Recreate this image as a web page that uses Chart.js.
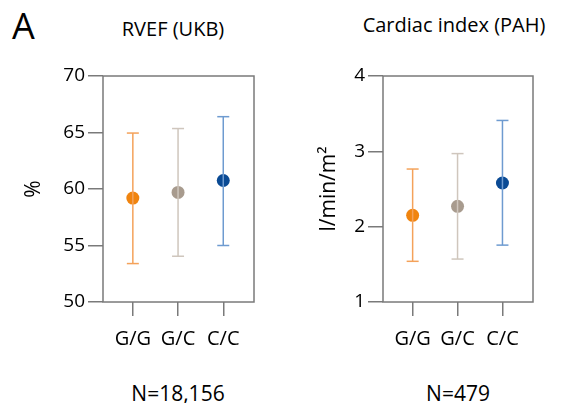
<!DOCTYPE html>
<html>
<head>
<meta charset="utf-8">
<script src="https://cdn.jsdelivr.net/npm/chart.js@4"></script>
<style>
  body { margin: 0; background: #fff; width: 561px; height: 403px; position: relative; overflow: hidden; font-family: 'Open Sans', sans-serif; color: #000; }
  .panel { position: absolute; top: 0; height: 403px; }
  .txt { position: absolute; line-height: 1; white-space: nowrap; transform: translateX(-50%); }
  #letter { position: absolute; left: 12px; top: 8px; font-size: 36px; line-height: 1; }
</style>
</head>
<body>
<div id="letter">A</div>
<div class="txt" style="left:173px; top:19px; font-size:20px;">RVEF (UKB)</div>
<div class="txt" style="left:454px; top:15px; font-size:20px;">Cardiac index (PAH)</div>
<div class="txt" style="left:178px; top:383px; font-size:21px;">N=18,156</div>
<div class="txt" style="left:458px; top:383px; font-size:21px;">N=479</div>
<div class="panel" style="left:0; width:280px;"><canvas id="rvef"></canvas></div>
<div class="panel" style="left:280px; width:281px;"><canvas id="ci"></canvas></div>
<script>
// genotypes on x
const genotypes = ['G/G', 'G/C', 'C/C'];

// RVEF (UKB), %
const rvefMean = [59.2, 59.7, 60.75];
const rvefLow = [53.4, 54.05, 55.0];
const rvefHigh = [64.95, 65.35, 66.4];
const rvefTicks = [50, 55, 60, 65, 70];

// Cardiac index (PAH), l/min/m2
const ciMean = [2.15, 2.27, 2.58];
const ciLow = [1.54, 1.57, 1.755];
const ciHigh = [2.765, 2.97, 3.41];
const ciTicks = [1, 2, 3, 4];

const pointColours = ['#F0840F', '#A89B8E', '#0A4A94'];
const barColours = ['#F4A25A', '#CFC6BD', '#6E9BD0'];

//draws the closed box round the plot
const boxPlugin = {
    id: 'box',
    afterDatasetsDraw(chart) {
        const a = chart.chartArea;
        const ctx = chart.ctx;
        ctx.save();
        ctx.strokeStyle = '#7a7a7a';
        ctx.lineWidth = 1.5;
        ctx.strokeRect(a.left, a.top, a.right - a.left, a.bottom - a.top);
        ctx.restore();
    }
};

function makeChart(id, yTitle, mean, low, high, yTicks, rightPad, yTitlePad) {
    var datasets = [];
    for(var i = 0; i < genotypes.length; i++) {
        datasets.push({
            type: 'line',
            data: [{x: i, y: low[i]}, {x: i, y: high[i]}],
            borderColor: barColours[i],
            borderWidth: 1.5,
            pointStyle: 'line',
            pointRadius: 6,
            pointBorderColor: barColours[i],
            pointBorderWidth: 1.5,
            fill: false
        });
    }
    datasets.push({
        type: 'scatter',
        data: mean.map((m, i) => ({x: i, y: m})),
        pointRadius: 6.5,
        pointBackgroundColor: pointColours,
        pointBorderColor: pointColours,
        pointBorderWidth: 0
    });

    return new Chart(document.getElementById(id), {
        type: 'scatter',
        data: { datasets: datasets },
        plugins: [boxPlugin],
        options: {
            responsive: true,
            maintainAspectRatio: false,
            animation: false,
            events: [],
            layout: { padding: { left: 0, right: rightPad, top: 76, bottom: 0 } },
            plugins: {
                legend: { display: false },
                tooltip: { enabled: false }
            },
            scales: {
                x: {
                    type: 'linear',
                    min: -0.66,
                    max: 2.68,
                    afterBuildTicks: (scale) => { scale.ticks = genotypes.map((g, i) => ({value: i})); },
                    afterFit: (scale) => { scale.height = 101; },
                    ticks: {
                        callback: (v) => genotypes[v],
                        color: '#000',
                        font: { family: 'Open Sans', size: 20 },
                        padding: 11,
                        maxRotation: 0
                    },
                    grid: { drawOnChartArea: false, drawTicks: true, tickLength: 14, color: '#7a7a7a', lineWidth: 1.5 },
                    border: { display: false }
                },
                y: {
                    min: yTicks[0],
                    max: yTicks[yTicks.length - 1],
                    afterBuildTicks: (scale) => { scale.ticks = yTicks.map(v => ({value: v})); },
                    afterFit: (scale) => { scale.width = 103; },
                    ticks: {
                        color: '#000',
                        font: { family: 'Open Sans', size: 19 },
                        padding: 3
                    },
                    grid: { drawOnChartArea: false, drawTicks: true, tickLength: 15, color: '#7a7a7a', lineWidth: 1.5 },
                    border: { display: false },
                    title: {
                        display: true,
                        text: yTitle,
                        color: '#000',
                        font: { family: 'Open Sans', size: 21 },
                        padding: { top: yTitlePad, bottom: 0 }
                    }
                }
            }
        }
    });
}

makeChart('rvef', '%', rvefMean, rvefLow, rvefHigh, rvefTicks, 26, 21);
makeChart('ci', 'l/min/m²', ciMean, ciLow, ciHigh, ciTicks, 28, 36);
</script>
</body>
</html>
